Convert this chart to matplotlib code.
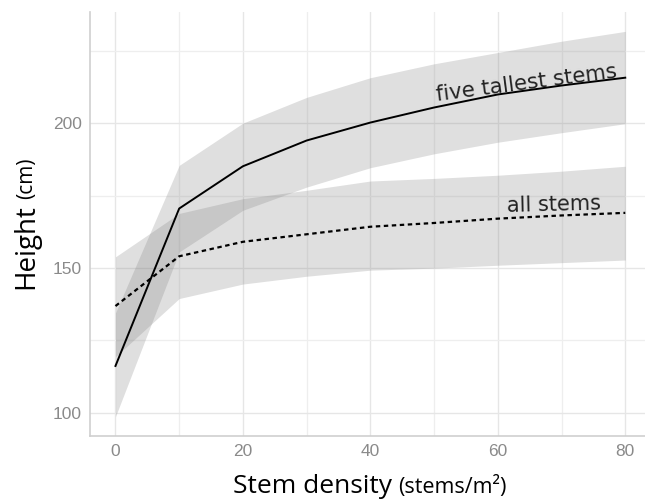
import numpy as np
import matplotlib
matplotlib.use("Agg")
import matplotlib.pyplot as plt

# stem density (stems/m2)
density = [0, 10, 20, 30, 40, 50, 60, 70, 80]

# five tallest stems: fitted height and band
tall_mean = [116.2, 170.6, 185.2, 194.1, 200.3, 205.5, 210.0, 213.1, 215.8]
tall_low = [98.7, 155.6, 170.0, 178.0, 184.7, 189.5, 193.5, 196.8, 199.9]
tall_high = [134.5, 185.5, 200.1, 209.0, 215.8, 220.6, 224.5, 228.4, 231.8]

# all stems
all_mean = [136.9, 154.1, 159.1, 161.7, 164.3, 165.6, 167.1, 168.2, 169.1]
all_low = [119.4, 139.5, 144.5, 147.2, 149.3, 150.0, 151.0, 151.9, 152.8]
all_high = [153.9, 168.9, 174.0, 176.9, 180.1, 181.0, 182.1, 183.5, 185.2]

x_ticks = [0, 20, 40, 60, 80]
y_ticks = [100, 150, 200]

plt.rcParams['font.family'] = ['Open Sans', 'DejaVu Sans']

fig = plt.figure(figsize=(6.45, 5), dpi=100)
ax = fig.add_axes([0.1395, 0.128, 0.8605, 0.848])

ax.fill_between(density, tall_low, tall_high, color='#808080', alpha=0.25, lw=0)
ax.fill_between(density, all_low, all_high, color='#808080', alpha=0.25, lw=0)
ax.plot(density, tall_mean, color='black', lw=1.4)
ax.plot(density, all_mean, color='black', lw=1.6, linestyle=(0, (2, 1.6)))

ax.set_xlim(-4, 83.1)
ax.set_ylim(92, 238.5)
ax.set_xticks(x_ticks)
ax.set_yticks(y_ticks)
ax.set_xticks([10, 30, 50, 70], minor=True)
ax.set_yticks([125, 175, 225], minor=True)
ax.grid(which='major', color='#e6e6e6', lw=1.0)
ax.grid(which='minor', color='#eeeeee', lw=0.9)
ax.set_axisbelow(True)
ax.tick_params(which='both', length=0, labelsize=12.5, labelcolor='#8a8a8a', pad=6)
for lab in ax.get_xticklabels() + ax.get_yticklabels():
    lab.set_family('Liberation Sans')

for s in ['top', 'right']:
    ax.spines[s].set_visible(False)
for s in ['left', 'bottom']:
    ax.spines[s].set_color('#cfcfcf')
    ax.spines[s].set_linewidth(1.2)

ax.text(50.4, 207.9, 'five tallest stems', fontsize=15.3, color='#222222', family='DejaVu Sans',
        rotation=7.4, rotation_mode='anchor', ha='left', va='baseline')
ax.text(61.5, 169.4, 'all stems', fontsize=15, color='#222222', family='DejaVu Sans',
        rotation=1.5, rotation_mode='anchor', ha='left', va='baseline')

# axis titles with smaller unit parts
fig.canvas.draw()
r = fig.canvas.get_renderer()
t1 = fig.text(233 / 645, 1 - 493 / 500, 'Stem density', fontsize=19, ha='left', va='baseline')
bb = t1.get_window_extent(r)
fig.text((bb.x1 + 6) / 645, 1 - 493 / 500, '(stems/m²)', fontsize=15.5, ha='left', va='baseline')

t2 = fig.text(12 / 645, 1 - 289 / 500, 'Height', fontsize=20, rotation=90, ha='left', va='bottom')
bb = t2.get_window_extent(r)
fig.text(16 / 645, (bb.y1 + 5) / 500, '(cm)', fontsize=15, rotation=90, ha='left', va='bottom')

fig.savefig('out.png', dpi=100)
